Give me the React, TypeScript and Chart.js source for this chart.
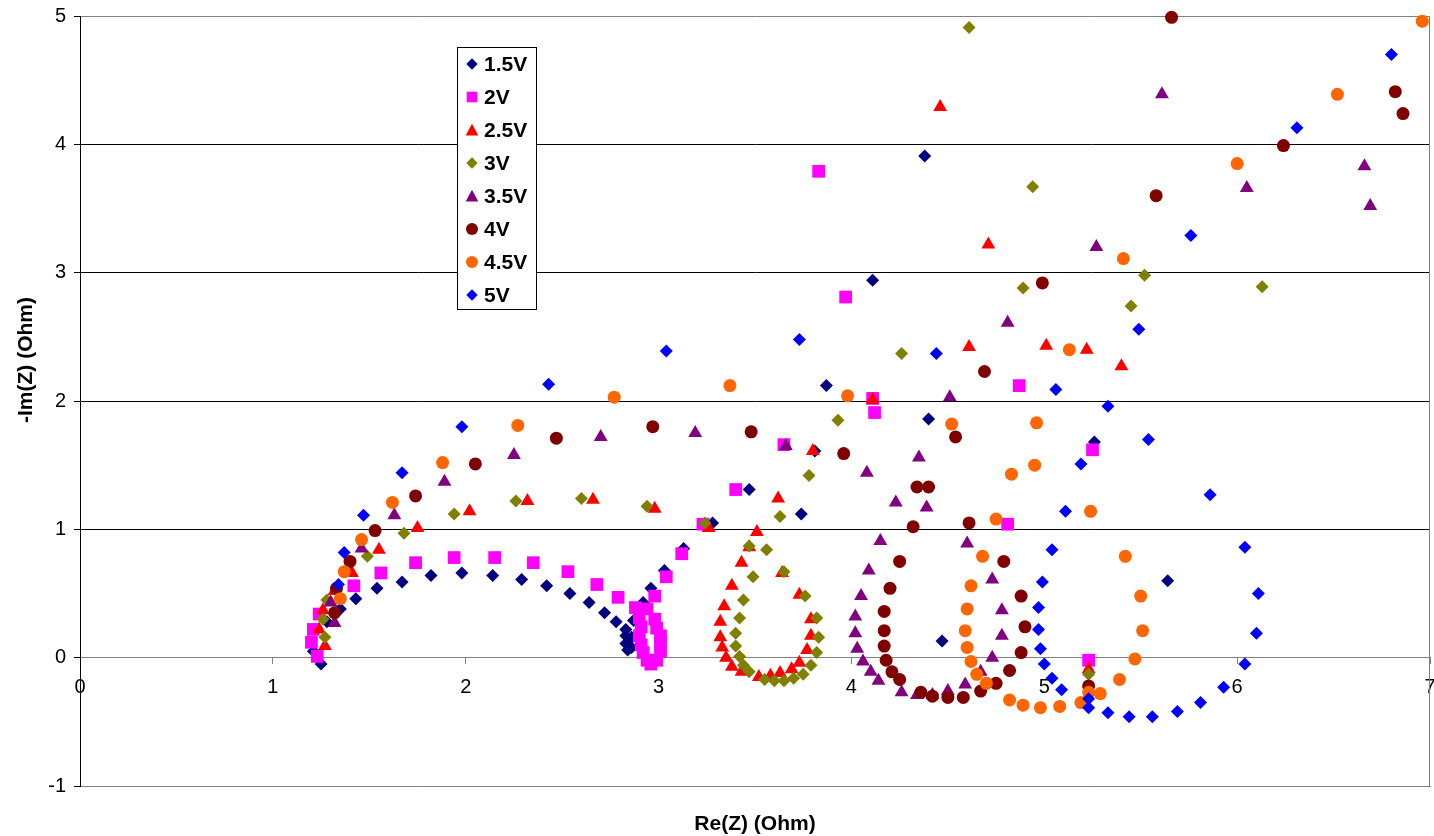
import React, { useEffect, useRef } from 'react';
import { Chart, registerables } from 'chart.js';

Chart.register(...registerables);

const FONT = '"Liberation Sans", Arial, sans-serif';

const seriesNames = ['1.5V', '2V', '2.5V', '3V', '3.5V', '4V', '4.5V', '5V'];
const seriesColors = ['#000080', '#FF00FF', '#FF0000', '#808000', '#800080', '#800000', '#FF6600', '#0000FF'];
const seriesShapes = ['rectRot', 'rect', 'triangle', 'rectRot', 'triangle', 'circle', 'circle', 'rectRot'];
const seriesRadius = [6.5, 9, 8, 6.5, 8, 6.5, 6.5, 6.5];

const xTickValues = [0, 1, 2, 3, 4, 5, 6, 7];
const yTickValues = [-1, 0, 1, 2, 3, 4, 5];
const xTitle = 'Re(Z) (Ohm)';
const yTitle = '-Im(Z) (Ohm)';

const v1_5V: [number, number][] = [
  [1.25, -0.05], [1.21, 0.05], [1.28, 0.28], [1.35, 0.38], [1.43, 0.46], [1.54, 0.54], [1.67, 0.59],
  [1.82, 0.64], [1.98, 0.66], [2.14, 0.64], [2.29, 0.61], [2.42, 0.56], [2.54, 0.5], [2.64, 0.43],
  [2.72, 0.35], [2.78, 0.28], [2.83, 0.22], [2.83, 0.17], [2.83, 0.11], [2.84, 0.06], [2.86, 0.08],
  [2.86, 0.16], [2.87, 0.29], [2.92, 0.43], [2.96, 0.54], [3.03, 0.68], [3.13, 0.85], [3.28, 1.05],
  [3.47, 1.31], [3.74, 1.12], [3.81, 1.61], [3.87, 2.12], [4.11, 2.94], [4.38, 3.91], [4.4, 1.86],
  [4.47, 0.13], [5.26, 1.68], [5.64, 0.6],
];

const v2V: [number, number][] = [
  [1.23, 0.01], [1.2, 0.12], [1.21, 0.22], [1.24, 0.34], [1.42, 0.56], [1.56, 0.66], [1.74, 0.74],
  [1.94, 0.78], [2.15, 0.78], [2.35, 0.74], [2.53, 0.67], [2.68, 0.57], [2.79, 0.47], [2.88, 0.39],
  [2.94, 0.38], [2.9, 0.31], [2.91, 0.24], [2.9, 0.17], [2.91, 0.1], [2.92, 0.04], [2.94, -0.02],
  [2.96, -0.05], [2.99, -0.02], [3.01, 0.05], [3.01, 0.11], [3.01, 0.17], [2.99, 0.23], [2.98, 0.3],
  [2.98, 0.48], [3.04, 0.63], [3.12, 0.81], [3.23, 1.04], [3.4, 1.31], [3.65, 1.66], [3.83, 3.79],
  [3.97, 2.81], [4.11, 2.02], [4.12, 1.91], [4.81, 1.04], [4.87, 2.12], [5.23, -0.02], [5.25, 1.62],
];

const v2_5V: [number, number][] = [
  [1.27, 0.09], [1.24, 0.22], [1.26, 0.37], [1.32, 0.52], [1.41, 0.66], [1.55, 0.84], [1.75, 1.01],
  [2.02, 1.14], [2.32, 1.22], [2.66, 1.23], [2.98, 1.16], [3.26, 1.01], [3.51, 0.98], [3.47, 0.86],
  [3.43, 0.74], [3.38, 0.56], [3.34, 0.4], [3.32, 0.28], [3.32, 0.16], [3.33, 0.08], [3.35, 0.0],
  [3.38, -0.07], [3.43, -0.11], [3.52, -0.15], [3.58, -0.14], [3.63, -0.12], [3.69, -0.09], [3.73, -0.04],
  [3.77, 0.06], [3.79, 0.17], [3.79, 0.3], [3.73, 0.49], [3.64, 0.66], [3.62, 1.24], [3.8, 1.61],
  [4.11, 2.01], [4.61, 2.42], [4.71, 3.22], [4.46, 4.29], [5.01, 2.43], [5.22, 2.4], [5.4, 2.27],
  [5.23, -0.09],
];

const v3V: [number, number][] = [
  [1.27, 0.16], [1.26, 0.3], [1.28, 0.45], [1.49, 0.79], [1.68, 0.97], [1.94, 1.12], [2.26, 1.22],
  [2.6, 1.24], [2.94, 1.18], [3.24, 1.05], [3.47, 0.87], [3.56, 0.84], [3.49, 0.63], [3.44, 0.45],
  [3.42, 0.31], [3.4, 0.19], [3.4, 0.09], [3.42, 0.01], [3.44, -0.06], [3.47, -0.11], [3.55, -0.17],
  [3.6, -0.18], [3.65, -0.18], [3.7, -0.16], [3.75, -0.13], [3.79, -0.06], [3.82, 0.04], [3.83, 0.16],
  [3.82, 0.31], [3.76, 0.48], [3.65, 0.67], [3.63, 1.1], [3.78, 1.42], [3.93, 1.85], [4.26, 2.37],
  [4.61, 4.91], [4.94, 3.67], [4.89, 2.88], [5.52, 2.98], [5.45, 2.74], [6.13, 2.89], [5.23, -0.13],
];

const v3_5V: [number, number][] = [
  [1.32, 0.27], [1.3, 0.43], [1.46, 0.85], [1.63, 1.11], [1.89, 1.37], [2.25, 1.58], [2.7, 1.72],
  [3.19, 1.75], [3.66, 1.65], [4.08, 1.44], [4.23, 1.21], [4.15, 0.91], [4.09, 0.68], [4.05, 0.48],
  [4.02, 0.32], [4.02, 0.19], [4.03, 0.07], [4.06, -0.03], [4.1, -0.11], [4.14, -0.18], [4.26, -0.27],
  [4.34, -0.29], [4.42, -0.29], [4.5, -0.26], [4.59, -0.21], [4.67, -0.11], [4.73, 0.0], [4.78, 0.17],
  [4.78, 0.37], [4.73, 0.61], [4.6, 0.89], [4.39, 1.17], [4.35, 1.56], [4.51, 2.03], [4.81, 2.61],
  [5.27, 3.2], [5.61, 4.39], [6.05, 3.66], [6.66, 3.83], [6.69, 3.52],
];

const v4V: [number, number][] = [
  [1.32, 0.35], [1.33, 0.54], [1.4, 0.75], [1.53, 0.99], [1.74, 1.26], [2.05, 1.51], [2.47, 1.71],
  [2.97, 1.8], [3.48, 1.76], [3.96, 1.59], [4.69, 2.23], [4.54, 1.72], [4.34, 1.33], [4.4, 1.33],
  [4.32, 1.02], [4.25, 0.75], [4.2, 0.54], [4.17, 0.36], [4.17, 0.21], [4.17, 0.09], [4.18, -0.02],
  [4.21, -0.11], [4.25, -0.17], [4.36, -0.27], [4.42, -0.3], [4.5, -0.31], [4.58, -0.31], [4.67, -0.26],
  [4.75, -0.2], [4.82, -0.1], [4.88, 0.04], [4.9, 0.24], [4.88, 0.48], [4.79, 0.75], [4.61, 1.05],
  [5.23, -0.22], [4.99, 2.92], [5.58, 3.6], [5.66, 4.99], [6.24, 3.99], [6.82, 4.41], [6.86, 4.24],
];

const v4_5V: [number, number][] = [
  [1.35, 0.46], [1.37, 0.67], [1.46, 0.92], [1.62, 1.21], [1.88, 1.52], [2.27, 1.81], [2.77, 2.03],
  [3.37, 2.12], [3.98, 2.04], [4.52, 1.82], [4.96, 1.83], [4.95, 1.5], [4.83, 1.43], [4.75, 1.08],
  [4.68, 0.79], [4.62, 0.56], [4.6, 0.38], [4.59, 0.21], [4.6, 0.08], [4.62, -0.03], [4.65, -0.13],
  [4.7, -0.2], [4.82, -0.33], [4.89, -0.37], [4.98, -0.39], [5.08, -0.38], [5.19, -0.35], [5.23, -0.27],
  [5.29, -0.28], [5.39, -0.17], [5.47, -0.01], [5.51, 0.21], [5.5, 0.48], [5.42, 0.79], [5.24, 1.14],
  [5.13, 2.4], [5.41, 3.11], [6.0, 3.85], [6.52, 4.39], [6.96, 4.96],
];

const v5V: [number, number][] = [
  [1.34, 0.57], [1.37, 0.82], [1.47, 1.11], [1.67, 1.44], [1.98, 1.8], [2.43, 2.13], [3.04, 2.39],
  [3.73, 2.48], [4.44, 2.37], [5.06, 2.09], [5.33, 1.96], [5.54, 1.7], [5.19, 1.51], [5.11, 1.14],
  [5.04, 0.84], [4.99, 0.59], [4.97, 0.39], [4.97, 0.22], [4.98, 0.07], [5.0, -0.05], [5.04, -0.16],
  [5.09, -0.25], [5.23, -0.32], [5.23, -0.39], [5.33, -0.43], [5.44, -0.46], [5.56, -0.46], [5.69, -0.42],
  [5.81, -0.35], [5.93, -0.23], [6.04, -0.05], [6.1, 0.19], [6.11, 0.5], [6.04, 0.86], [5.86, 1.27],
  [5.76, 3.29], [5.49, 2.56], [6.31, 4.13], [6.8, 4.7],
];

const seriesValues = [v1_5V, v2V, v2_5V, v3V, v3_5V, v4V, v4_5V, v5V];

function drawMarker(ctx: CanvasRenderingContext2D, shape: string, x: number, y: number, s: number, color: string) {
  ctx.save();
  ctx.fillStyle = color;
  ctx.beginPath();
  if (shape === 'rectRot') {
    ctx.moveTo(x, y - s);
    ctx.lineTo(x + s, y);
    ctx.lineTo(x, y + s);
    ctx.lineTo(x - s, y);
    ctx.closePath();
  } else if (shape === 'rect') {
    ctx.rect(x - s, y - s, 2 * s, 2 * s);
  } else if (shape === 'triangle') {
    ctx.moveTo(x, y - s * 1.05);
    ctx.lineTo(x + s * 1.05, y + s * 0.9);
    ctx.lineTo(x - s * 1.05, y + s * 0.9);
    ctx.closePath();
  } else {
    ctx.arc(x, y, s, 0, Math.PI * 2);
  }
  ctx.fill();
  ctx.restore();
}

const decorPlugin = {
  id: 'decor',
  afterDraw(chart: any) {
    const ctx: CanvasRenderingContext2D = chart.ctx;
    const area = chart.chartArea;
    ctx.save();
    ctx.strokeStyle = '#808080';
    ctx.lineWidth = 1;
    ctx.beginPath();
    ctx.moveTo(Math.round(area.right) - 0.5, area.top);
    ctx.lineTo(Math.round(area.right) - 0.5, area.bottom);
    ctx.stroke();

    ctx.fillStyle = '#000';
    ctx.font = `bold 21px ${FONT}`;
    ctx.textAlign = 'center';
    ctx.textBaseline = 'middle';
    ctx.fillText(xTitle, (area.left + area.right) / 2, 824);
    ctx.save();
    ctx.translate(26, 360);
    ctx.rotate(-Math.PI / 2);
    ctx.fillText(yTitle, 0, 0);
    ctx.restore();

    const bx = 457.5, by = 47.5, bw = 79, bh = 262;
    ctx.fillStyle = '#fff';
    ctx.fillRect(bx, by, bw, bh);
    ctx.strokeStyle = '#000';
    ctx.strokeRect(bx, by, bw, bh);
    const sizes: Record<string, number> = { rectRot: 5.7, rect: 5.3, triangle: 6, circle: 6 };
    ctx.font = `bold 21px ${FONT}`;
    ctx.textAlign = 'left';
    ctx.textBaseline = 'middle';
    chart.data.datasets.forEach((ds: any, i: number) => {
      const cy = 64 + i * 33;
      drawMarker(ctx, ds.pointStyle, 472, cy, sizes[ds.pointStyle], ds.backgroundColor);
      ctx.fillStyle = '#000';
      ctx.fillText(ds.label, 484, cy + 1);
    });
    ctx.restore();
  },
};

function zeroPadding(scale: any) {
  scale.paddingTop = 0;
  scale.paddingBottom = 0;
  scale.paddingLeft = 0;
  scale.paddingRight = 0;
}

export default function App() {
  const canvasRef = useRef<HTMLCanvasElement | null>(null);

  useEffect(() => {
    if (!canvasRef.current) return;
    const datasets = seriesNames.map((name, i) => ({
      label: name,
      data: seriesValues[i].map(([x, y]) => ({ x, y })),
      backgroundColor: seriesColors[i],
      borderColor: seriesColors[i],
      borderWidth: 0,
      pointStyle: seriesShapes[i],
      pointRadius: seriesRadius[i],
      pointHoverRadius: seriesRadius[i],
      pointBorderWidth: 0,
      showLine: false,
      clip: false,
      order: seriesNames.length - i,
    }));

    const tickFont = { family: FONT, size: 20 };

    const chart = new Chart(canvasRef.current, {
      type: 'scatter',
      data: { datasets },
      plugins: [decorPlugin],
      options: {
        animation: false,
        responsive: false,
        events: [],
        layout: { autoPadding: false, padding: { top: 16, right: 4, left: 0, bottom: 0 } },
        plugins: {
          legend: { display: false },
          tooltip: { enabled: false },
        },
        scales: {
          x: {
            type: 'linear',
            position: { y: 0 } as any,
            min: 0,
            max: 7,
            afterBuildTicks: (scale: any) => {
              scale.ticks = xTickValues.map((v) => ({ value: v }));
            },
            afterFit: zeroPadding,
            ticks: { color: '#000', font: tickFont, padding: 12, maxRotation: 0 },
            grid: { drawOnChartArea: false, drawTicks: true, tickLength: 6, tickColor: '#808080' },
            border: { color: '#808080', width: 1 },
          },
          x2: {
            type: 'linear',
            position: 'bottom',
            min: 0,
            max: 7,
            ticks: { display: false },
            grid: { drawOnChartArea: false, drawTicks: false },
            border: { color: '#808080', width: 1 },
            afterFit: (scale: any) => {
              zeroPadding(scale);
              scale.height = 50;
            },
          },
          y: {
            type: 'linear',
            min: -1,
            max: 5,
            afterBuildTicks: (scale: any) => {
              scale.ticks = yTickValues.map((v) => ({ value: v }));
            },
            ticks: { color: '#000', font: tickFont, padding: 8 },
            grid: {
              color: (c: any) => {
                const v = c.tick ? c.tick.value : null;
                if (v === 5) return '#808080';
                if (v === 0 || v === -1) return 'rgba(0,0,0,0)';
                return '#000';
              },
              lineWidth: 1,
              tickLength: 6,
              tickColor: '#000',
            },
            border: { color: '#000', width: 1 },
            afterFit: (scale: any) => {
              zeroPadding(scale);
              scale.width = 80;
            },
          },
        },
      },
    } as any);

    return () => {
      chart.destroy();
    };
  }, []);

  return (
    <div style={{ position: 'fixed', left: 0, top: 0, width: 1434, height: 836, background: '#fff' }}>
      <canvas ref={canvasRef} width={1434} height={836} style={{ display: 'block', width: 1434, height: 836 }} />
    </div>
  );
}
